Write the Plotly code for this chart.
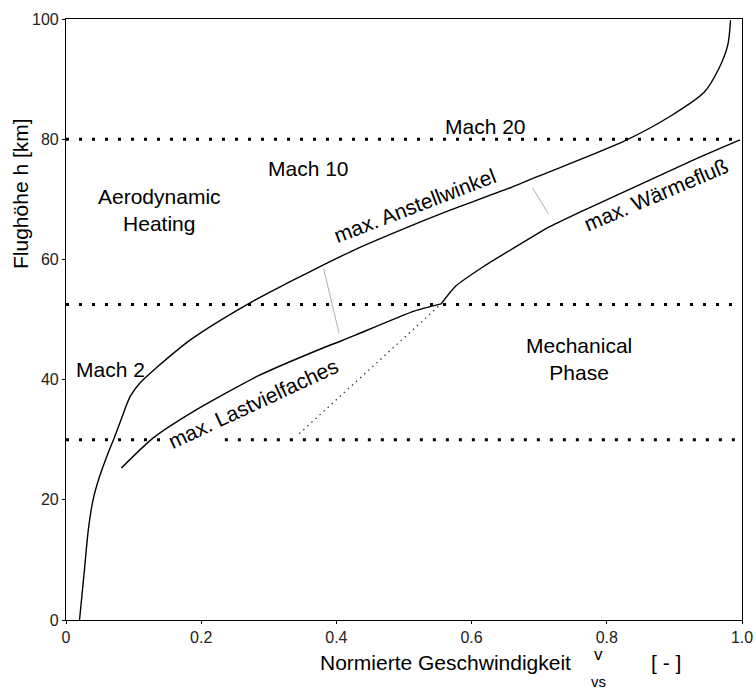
import plotly.graph_objects as go

# ---- data ----
traj_v = [0.020, 0.027, 0.033, 0.040, 0.048, 0.062, 0.071, 0.081, 0.095, 0.109, 0.134,
          0.185, 0.271, 0.330, 0.383, 0.427, 0.528, 0.557, 0.659, 0.698, 0.828, 0.895,
          0.944, 0.966, 0.979, 0.983]
traj_h = [0.0, 8.0, 15.0, 20.0, 23.3, 27.7, 30.2, 33.2, 37.2, 39.4, 42.0,
          46.7, 52.7, 56.2, 59.2, 61.6, 66.4, 67.7, 72.0, 73.8, 79.8, 83.9,
          87.8, 91.8, 95.7, 99.8]

# max. Lastvielfaches (below the kink) and max. Wärmefluß (above the kink)
load_v = [0.082, 0.129, 0.187, 0.284, 0.381, 0.404, 0.428, 0.515, 0.555]
load_h = [25.3, 30.3, 34.6, 40.6, 45.3, 46.3, 47.4, 51.4, 52.6]
heat_v = [0.555, 0.577, 0.616, 0.655, 0.713, 0.761, 0.819, 0.877, 0.935, 0.997]
heat_h = [52.6, 55.6, 58.7, 61.4, 65.3, 67.9, 70.9, 73.9, 76.9, 79.9]

diag_v = [0.345, 0.555]
diag_h = [31.0, 52.6]

faint1_v = [0.381, 0.404]
faint1_h = [58.5, 47.7]
faint2_v = [0.690, 0.714]
faint2_h = [71.9, 67.5]

phase_h = [80.0, 52.5, 30.0]
phase_segments = [[(0.0, 1.0)], [(0.0, 1.0)], [(0.0, 0.14), (0.235, 1.0)]]

x_ticks = [0, 0.2, 0.4, 0.6, 0.8, 1.0]
x_ticktext = ["0", "0.2", "0.4", "0.6", "0.8", "1.0"]
y_ticks = [0, 20, 40, 60, 80, 100]

labels = [
    ("Aerodynamic<br>Heating", 0.139, 68.3, 0),
    ("Mach 10", 0.358, 75.2, 0),
    ("Mach 20", 0.621, 82.1, 0),
    ("Mach 2", 0.066, 41.7, 0),
    ("Mechanical<br>Phase", 0.759, 43.5, 0),
    ("max. Anstellwinkel", 0.516, 69.0, -21),
    ("max. Lastvielfaches", 0.277, 36.0, -25),
    ("max. Wärmefluß", 0.8735, 70.8, -23),
]

FONT = "Liberation Sans, Arial, Helvetica, sans-serif"
TXT = 21

fig = go.Figure()

for h, segs in zip(phase_h, phase_segments):
    for (a, b) in segs:
        fig.add_trace(go.Scatter(x=[a, b], y=[h, h], mode="lines",
                                 line=dict(color="black", width=3, dash="3px,10px"),
                                 hoverinfo="skip", showlegend=False))

fig.add_trace(go.Scatter(x=diag_v, y=diag_h, mode="lines",
                         line=dict(color="#333", width=1.2, dash="1.5px,4px"),
                         showlegend=False))
for fv, fh in [(faint1_v, faint1_h), (faint2_v, faint2_h)]:
    fig.add_trace(go.Scatter(x=fv, y=fh, mode="lines",
                             line=dict(color="#b0b0b0", width=1),
                             showlegend=False))

fig.add_trace(go.Scatter(x=traj_v, y=traj_h, mode="lines",
                         line=dict(color="black", width=1.4, shape="spline", smoothing=0.8),
                         showlegend=False))
for cv, ch in [(load_v, load_h), (heat_v, heat_h)]:
    fig.add_trace(go.Scatter(x=cv, y=ch, mode="lines",
                             line=dict(color="black", width=1.4, shape="spline", smoothing=0.6),
                             showlegend=False))

annotations = []
for text, x, y, ang in labels:
    annotations.append(dict(text=text, x=x, y=y, xref="x", yref="y",
                            showarrow=False, textangle=ang,
                            font=dict(family=FONT, size=TXT, color="black")))

# axis titles
annotations += [
    dict(text="Flughöhe h [km]", x=-0.067, y=0.71, xref="paper", yref="paper",
         textangle=-90, showarrow=False, xanchor="center", yanchor="middle",
         font=dict(family=FONT, size=TXT, color="black")),
    dict(text="Normierte Geschwindigkeit", x=0.561, y=-0.070, xref="paper", yref="paper",
         showarrow=False, xanchor="center", yanchor="middle",
         font=dict(family=FONT, size=TXT, color="black")),
    dict(text="v", x=0.7875, y=-0.057, xref="paper", yref="paper",
         showarrow=False, xanchor="center", yanchor="middle",
         font=dict(family=FONT, size=17, color="black")),
    dict(text="vs", x=0.7875, y=-0.102, xref="paper", yref="paper",
         showarrow=False, xanchor="center", yanchor="middle",
         font=dict(family=FONT, size=15, color="black")),
    dict(text="[ - ]", x=0.888, y=-0.070, xref="paper", yref="paper",
         showarrow=False, xanchor="center", yanchor="middle",
         font=dict(family=FONT, size=TXT, color="black")),
]

fig.update_layout(
    width=756, height=691,
    margin=dict(l=66, r=3, t=19, b=71),
    paper_bgcolor="white", plot_bgcolor="white",
    showlegend=False,
    annotations=annotations,
    font=dict(family=FONT, color="black"),
)
fig.update_xaxes(range=[0, 1.0], tickvals=x_ticks, ticktext=x_ticktext,
                 showgrid=False, zeroline=False, showline=True, linecolor="black",
                 linewidth=1.2, mirror=True, ticks="outside", ticklen=3,
                 ticklabeloverflow="allow",
                 tickcolor="black", tickfont=dict(family=FONT, size=16, color="#222"))
fig.update_yaxes(range=[0, 100], tickvals=y_ticks,
                 showgrid=False, zeroline=False, showline=True, linecolor="black",
                 linewidth=1.2, mirror=True, ticks="outside", ticklen=3,
                 tickcolor="black", tickfont=dict(family=FONT, size=16, color="#222"))

fig.write_html("out.html")
